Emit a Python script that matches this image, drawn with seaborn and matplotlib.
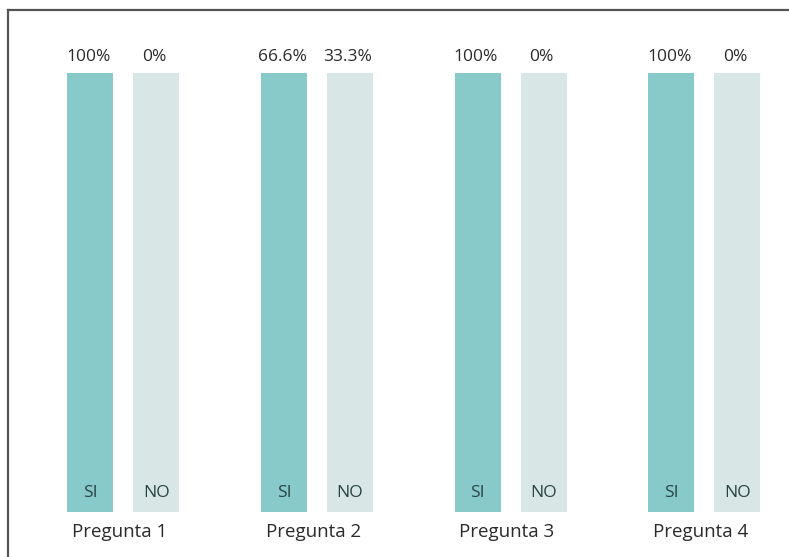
import matplotlib
matplotlib.use("Agg")
import matplotlib.pyplot as plt
import seaborn as sns
import pandas as pd

# ---- data ----
preguntas = ["Pregunta 1", "Pregunta 2", "Pregunta 3", "Pregunta 4"]
respuestas = ["SI", "NO"]
si_pct = [100, 66.6, 100, 100]
no_pct = [0, 33.3, 0, 0]
si_labels = ["100%", "66.6%", "100%", "100%"]
no_labels = ["0%", "33.3%", "0%", "0%"]
# every column in the original is drawn at full height
column_height = [1, 1, 1, 1]

rows = []
for i, p in enumerate(preguntas):
    rows.append({"pregunta": p, "resp": "SI", "h": column_height[i], "pct": si_pct[i], "lab": si_labels[i]})
    rows.append({"pregunta": p, "resp": "NO", "h": column_height[i], "pct": no_pct[i], "lab": no_labels[i]})
df = pd.DataFrame(rows)

sns.set_theme(style="white")
plt.rcParams["font.family"] = ["Open Sans", "DejaVu Sans"]

fig = plt.figure(figsize=(7.89, 5.57), dpi=100)
ax = fig.add_axes([8 / 789, 0, (789 - 8) / 789, (557 - 10) / 557])

palette = {"SI": "#88c9c9", "NO": "#d8e6e6"}
sns.barplot(data=df, x="pregunta", y="h", hue="resp", hue_order=respuestas,
            order=preguntas, palette=palette, width=0.68, legend=False,
            ax=ax, saturation=1, edgecolor="none")

bar_w = 0.2375
for patch in ax.patches:
    cx = patch.get_x() + patch.get_width() / 2
    patch.set_width(bar_w)
    patch.set_x(cx - bar_w / 2)

ax.set_xlim(-0.595, 3.437)
ax.set_ylim(-0.1025, 1.1435)

off = 0.68 / 4
txt_color = "#2b2b2b"
for i in range(len(preguntas)):
    ax.text(i - off - 0.01, 1.037, si_labels[i], ha="center", va="center", fontsize=12.5, color=txt_color)
    ax.text(i + off - 0.01, 1.037, no_labels[i], ha="center", va="center", fontsize=12.5, color=txt_color)
    ax.text(i - off, 0.043, respuestas[0], ha="center", va="center", fontsize=12.5, color="#2a4444")
    ax.text(i + off, 0.043, respuestas[1], ha="center", va="center", fontsize=12.5, color="#2a4444")
    ax.text(i - 0.02, -0.045, preguntas[i], ha="center", va="center", fontsize=13.5, color=txt_color)

ax.set_xticks([])
ax.set_yticks([])
ax.set_xlabel("")
ax.set_ylabel("")
for s in ["right", "bottom"]:
    ax.spines[s].set_visible(False)
for s in ["top", "left"]:
    ax.spines[s].set_color("#555555")
    ax.spines[s].set_linewidth(1.6)

fig.savefig("out.png", dpi=100)
